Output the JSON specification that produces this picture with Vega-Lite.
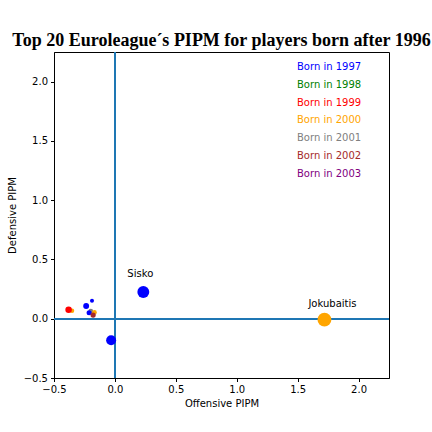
{
  "$schema": "https://vega.github.io/schema/vega-lite/v6.json",
  "width": 335,
  "height": 326,
  "autosize": {"type": "none"},
  "padding": {"left": 54, "top": 52, "right": 43, "bottom": 54},
  "background": "white",
  "title": {
    "text": "Top 20 Euroleague´s PIPM for players born after 1996",
    "font": "Liberation Serif",
    "fontSize": 18,
    "fontWeight": "bold",
    "color": "black",
    "anchor": "middle",
    "offset": 1
  },
  "config": {
    "view": {"stroke": "black", "strokeWidth": 1},
    "axis": {
      "grid": false,
      "domainColor": "black",
      "tickColor": "black",
      "tickSize": 3.5,
      "labelFont": "DejaVu Sans",
      "labelFontSize": 10,
      "labelColor": "black",
      "labelFlush": false,
      "labelOverlap": false,
      "titleFont": "DejaVu Sans",
      "titleFontSize": 10,
      "titleFontWeight": "normal",
      "titleColor": "black",
      "labelPadding": 3
    }
  },
  "data": {
    "values": [
      {"name": "Player A", "year": 2000, "off": -0.352, "def": 0.067, "minutes": 80},
      {"name": "Player B", "year": 1999, "off": -0.38, "def": 0.075, "minutes": 170},
      {"name": "Player C", "year": 1997, "off": -0.236, "def": 0.107, "minutes": 140},
      {"name": "Player D", "year": 1997, "off": -0.188, "def": 0.152, "minutes": 65},
      {"name": "Player E", "year": 2001, "off": -0.198, "def": 0.064, "minutes": 90},
      {"name": "Player F", "year": 1997, "off": -0.212, "def": 0.05, "minutes": 100},
      {"name": "Player G", "year": 2000, "off": -0.168, "def": 0.053, "minutes": 90},
      {"name": "Player H", "year": 2002, "off": -0.179, "def": 0.031, "minutes": 110},
      {"name": "Player I", "year": 1997, "off": -0.031, "def": -0.182, "minutes": 400},
      {"name": "Sisko", "year": 1997, "off": 0.233, "def": 0.225, "minutes": 565, "label": "Sisko"},
      {"name": "Jokubaitis", "year": 2000, "off": 1.72, "def": -0.008, "minutes": 770, "label": "Jokubaitis"}
    ]
  },
  "layer": [
    {
      "mark": {"type": "rule", "color": "#1f77b4", "strokeWidth": 1.5},
      "encoding": {"x": {"datum": 0, "type": "quantitative"}}
    },
    {
      "mark": {"type": "rule", "color": "#1f77b4", "strokeWidth": 1.5},
      "encoding": {"y": {"datum": 0, "type": "quantitative"}}
    },
    {
      "mark": {"type": "circle", "opacity": 1},
      "encoding": {
        "x": {
          "field": "off", "type": "quantitative",
          "scale": {"domain": [-0.5, 2.25], "nice": false, "zero": false},
          "axis": {"values": [-0.5, 0, 0.5, 1, 1.5, 2], "format": ".1f", "labelExpr": "replace(datum.label, '-', '−')", "title": "Offensive PIPM", "titlePadding": 4}
        },
        "y": {
          "field": "def", "type": "quantitative",
          "scale": {"domain": [-0.5, 2.25], "nice": false, "zero": false},
          "axis": {"values": [-0.5, 0, 0.5, 1, 1.5, 2], "format": ".1f", "labelExpr": "replace(datum.label, '-', '−')", "title": "Defensive PIPM", "titlePadding": 6}
        },
        "size": {
          "field": "minutes", "type": "quantitative",
          "scale": {"domain": [0, 800], "range": [0, 200]},
          "legend": null
        },
        "color": {
          "field": "year", "type": "nominal",
          "scale": {
            "domain": [1997, 1998, 1999, 2000, 2001, 2002, 2003],
            "range": ["blue", "green", "red", "orange", "gray", "brown", "purple"]
          },
          "legend": {
            "title": null,
            "orient": "none",
            "legendX": 233,
            "legendY": 10,
            "padding": 0,
            "symbolSize": 0,
            "symbolOpacity": 0,
            "symbolStrokeWidth": 0,
            "labelOffset": 0,
            "labelFont": "DejaVu Sans",
            "labelFontSize": 10,
            "rowPadding": 7.8,
            "labelExpr": "'Born in ' + datum.label",
            "encode": {"labels": {"update": {"fill": {"scale": "color", "field": "value"}}}}
          }
        }
      }
    },
    {
      "transform": [{"filter": "datum.label == 'Sisko'"}],
      "mark": {"type": "text", "font": "DejaVu Sans", "fontSize": 10, "color": "black", "dx": -3, "dy": -18},
      "encoding": {
        "x": {"field": "off", "type": "quantitative"},
        "y": {"field": "def", "type": "quantitative"},
        "text": {"field": "label"}
      }
    },
    {
      "transform": [{"filter": "datum.label == 'Jokubaitis'"}],
      "mark": {"type": "text", "font": "DejaVu Sans", "fontSize": 10, "color": "black", "dx": 8, "dy": -16},
      "encoding": {
        "x": {"field": "off", "type": "quantitative"},
        "y": {"field": "def", "type": "quantitative"},
        "text": {"field": "label"}
      }
    }
  ]
}
